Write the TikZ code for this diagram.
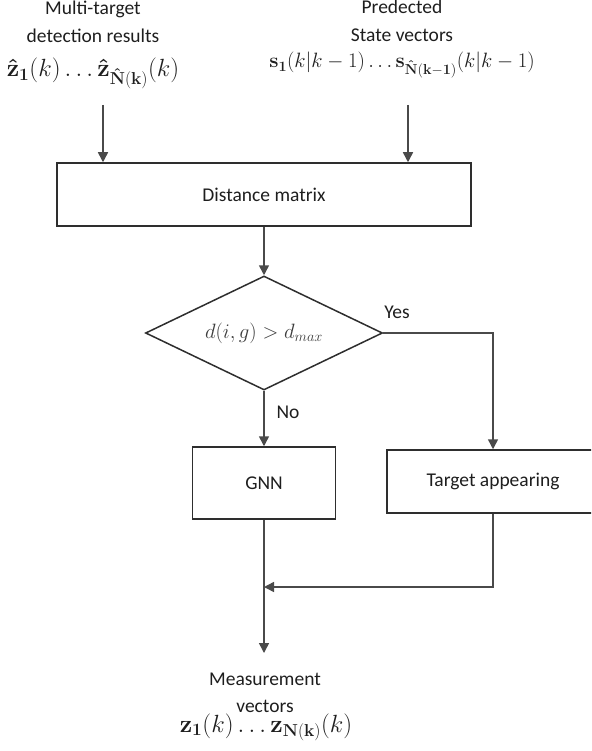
\documentclass[tikz,border=0pt]{standalone}
\usepackage{amsmath,amssymb}
\usepackage[no-math]{fontspec}
\setmainfont{Carlito}
\usepackage{tikz}
\usepackage{xcolor}
\usetikzlibrary{arrows.meta,positioning,shapes.geometric}
\definecolor{ink}{HTML}{1E1E1E}
\definecolor{frame}{HTML}{2E2E2E}
\definecolor{wire}{HTML}{4A4A4A}
\definecolor{cond}{HTML}{3C3C3C}
\newcommand{\flowfont}{\fontsize{19.5}{29}\selectfont}
\tikzset{
  procbox/.style={draw=frame, fill=white, line width=1.5pt, inner sep=0pt,
                  align=center, font=\flowfont, text=ink},
  decbox/.style={draw=frame, fill=white, line width=1.5pt, shape=diamond,
                 inner sep=0pt, minimum width=237pt, minimum height=114pt,
                 aspect=2.08, font=\flowfont, text=cond},
  iolabel/.style={inner sep=0pt, anchor=base, font=\flowfont, text=ink},
  iomath/.style={inner sep=0pt, anchor=base, font=\fontsize{21.5}{26}\selectfont, text=ink},
  branch/.style={font=\flowfont, text=ink, inner sep=0pt},
  arrow/.style={-{Triangle[length=10pt,width=10pt]}, line width=1.5pt, draw=wire}
}

\begin{document}
\begin{tikzpicture}[x=1pt,y=-1pt]
      \clip (0,0) rectangle (591,751);

      % inputs (left)
      \node[iolabel] (dettitle) at (93,15) {Multi-target};
      \node[iolabel] (detsub) at (93,43) {detection results};
      \node[iomath, font=\fontsize{24.5}{29}\selectfont] (detmath) at (93,77)
        {$\mathbf{\hat{z}}_{\mathbf{1}}(k)\ldots\mathbf{\hat{z}}_{\mathbf{\hat{N}(k)}}(k)$};
      \coordinate (detin) at (103,105);

      % inputs (right)
      \node[iolabel] (predtitle) at (402,14) {Predected};
      \node[iolabel] (predsub) at (402,42) {State vectors};
      \node[iomath] (predmath) at (402,68)
        {$\mathbf{s}_{\mathbf{1}}(k|k-1)\ldots\mathbf{s}_{\mathbf{\hat{N}(k-1)}}(k|k-1)$};
      \coordinate (predin) at (408,105);

      % blocks
      \node[procbox, minimum width=414pt, minimum height=63pt] (dist) at (264,194.5) {Distance matrix};
      \node[decbox] (dec) at (264,333) {$d(i,g) > d_{max}$};
      \node[procbox, minimum width=143pt, minimum height=72pt] (gnn) at (264,483) {GNN};
      \node[procbox, minimum width=212pt, minimum height=63pt] (tapp) at (493,481.5) {Target appearing};

      % output
      \coordinate (merge) at (264,587);
      \coordinate (outtip) at (264,653);
      \node[iolabel] (meastitle) at (265,685) {Measurement};
      \node[iolabel] (meassub) at (265,712) {vectors};
      \node[iomath, font=\fontsize{25.5}{30}\selectfont] (measmath) at (266,732)
        {$\mathbf{z}_{\mathbf{1}}(k)\ldots\mathbf{z}_{\mathbf{N(k)}}(k)$};

      % connectors
      \draw[arrow] (detin) -- (detin |- dist.north);
      \draw[arrow] (predin) -- (predin |- dist.north);
      \draw[arrow] (dist.south) -- (dec.north);
      \draw[arrow] (dec.east) -- (tapp.north |- dec.east) -- (tapp.north);
      \node[branch] (yes) at (397,312) {Yes};
      \draw[arrow] (dec.south) -- (gnn.north);
      \node[branch] (no) at (288,412) {No};
      \draw[arrow] (gnn.south) -- (outtip);
      \draw[arrow] (tapp.south) -- (tapp.south |- merge) -- (merge);
    \end{tikzpicture}
\end{document}
